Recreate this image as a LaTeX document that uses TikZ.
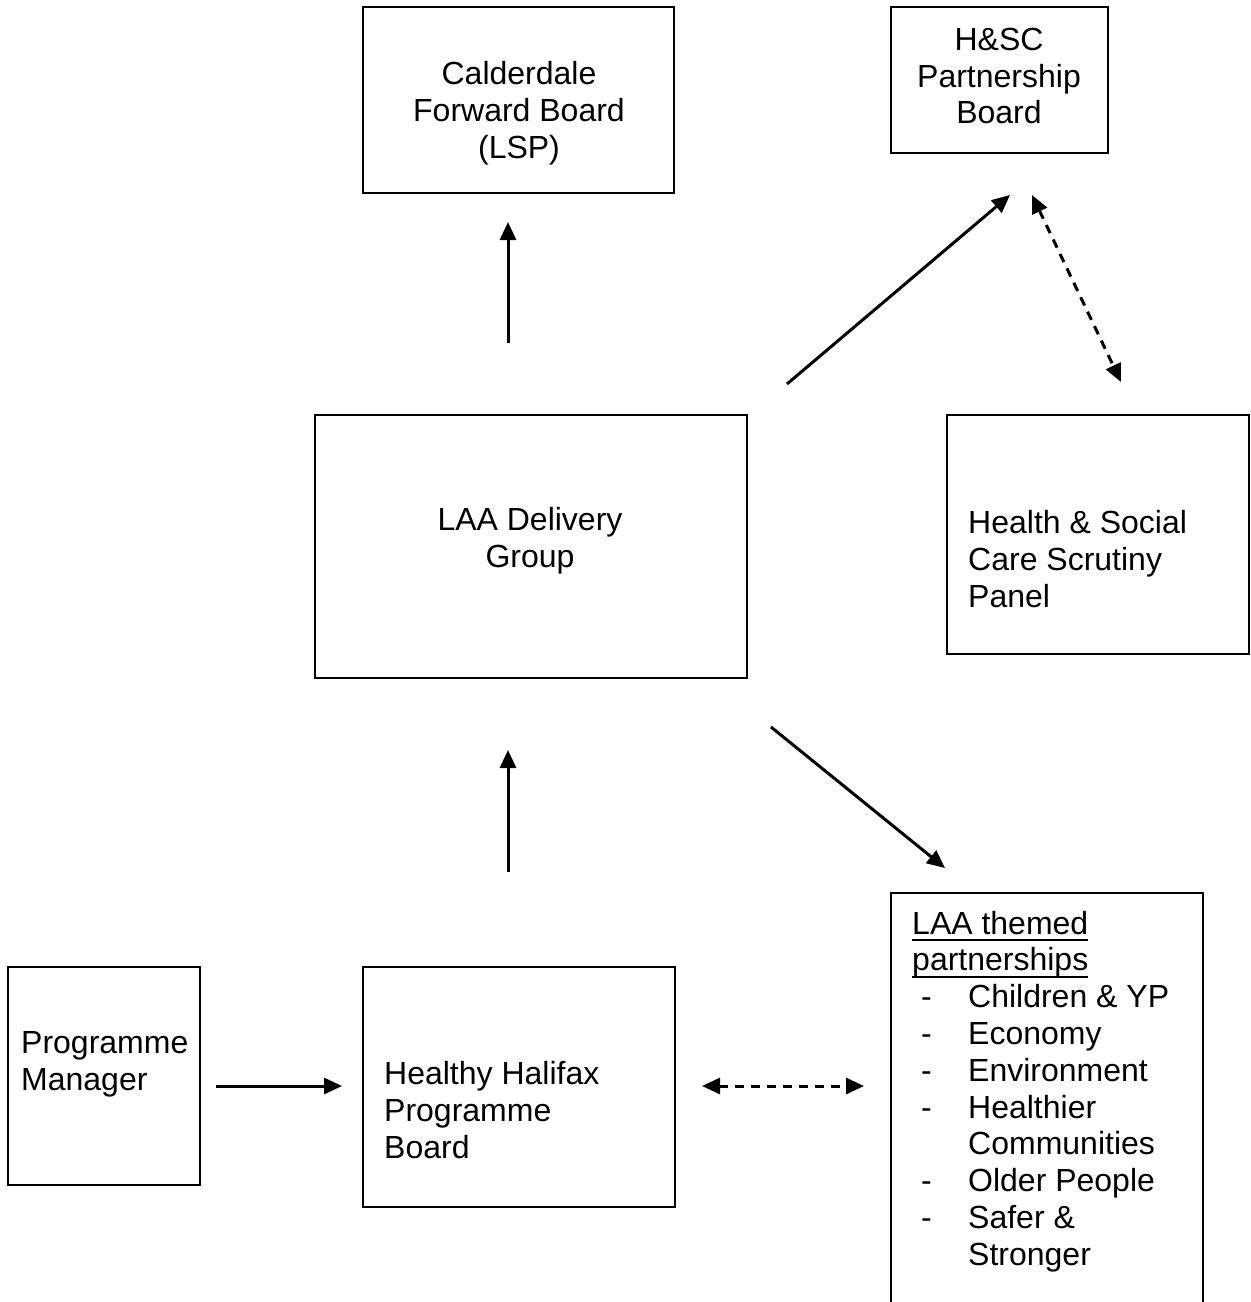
\documentclass[tikz,border=0pt]{standalone}
\usepackage{fontspec}
\setmainfont{Liberation Sans}
\usepackage{tikz}
\usetikzlibrary{arrows.meta}

\tikzset{
    box/.style={draw, line width=2.5pt, inner sep=0pt},
    lbl/.style={inner sep=0pt, font=\fontsize{32}{36.8}\selectfont},
    link/.style={line width=3pt, -{Triangle[length=18pt,width=16pt]}},
    twoway/.style={line width=3pt, dash pattern=on 9pt off 7pt,
        {Triangle[length=18pt,width=16pt]}-{Triangle[length=18pt,width=16pt]}}
}

\newcommand{\listentry}[1]{\makebox[56pt][l]{\hspace{9pt}-}#1}
\newcommand{\ulined}[1]{\setbox0\hbox{#1}\rlap{\rule[-7pt]{\wd0}{2pt}}\box0}

\begin{document}
\begin{tikzpicture}[x=1pt, y=-1pt]
        \useasboundingbox (0,0) rectangle (1251,1302);

        \node[box, minimum width=311pt, minimum height=186pt] (cfb) at (518.5,100) {};
        \node[lbl, align=center] (cfbtext) at (519,113) {Calderdale\\Forward Board\\(LSP)};
        \node[box, minimum width=217pt, minimum height=146pt] (hsc) at (999.5,80) {};
        \node[lbl, align=center] (hsctext) at (999,76) {H\&SC\\Partnership\\Board};

        \node[box, minimum width=432pt, minimum height=263pt] (laa) at (531,546.5) {};
        \node[lbl, align=center] (laatext) at (530,540.5) {LAA Delivery\\Group};
        \node[box, minimum width=302pt, minimum height=239pt] (scrut) at (1098,534.5) {};
        \node[lbl, align=left, anchor=west] (scruttext) at (968,559) {Health \& Social\\Care Scrutiny\\Panel};

        \node[box, minimum width=192pt, minimum height=218pt] (pm) at (104,1076) {};
        \node[lbl, align=left, anchor=west] (pmtext) at (21,1064.5) {Programme\\Manager};
        \node[box, minimum width=312pt, minimum height=240pt] (hh) at (519,1087) {};
        \node[lbl, align=left, anchor=west] (hhtext) at (384,1110) {Healthy Halifax\\Programme\\Board};
        \node[box, minimum width=312pt, minimum height=411pt] (themed) at (1047,1098.5) {};
        \node[lbl, align=left, anchor=west] (themedtext) at (912,1091.5) {\ulined{LAA themed}\\\ulined{partnerships}\\
            \listentry{Children \& YP}\\\listentry{Economy}\\\listentry{Environment}\\\listentry{Healthier}\\
            \hspace*{56pt}Communities\\\listentry{Older People}\\\listentry{Safer \&}\\\hspace*{56pt}Stronger};

        \coordinate (up1s) at (508,343);
        \coordinate (up1e) at (508,222);
        \coordinate (up2s) at (508,872);
        \coordinate (up2e) at (508,750);
        \coordinate (nes) at (787,384);
        \coordinate (nee) at (1010,195);
        \coordinate (dashts) at (1032,195);
        \coordinate (dashte) at (1121,382);
        \coordinate (ses) at (771,727);
        \coordinate (see) at (945,868);
        \coordinate (rts) at (216,1086);
        \coordinate (rte) at (342,1086);
        \coordinate (dashbs) at (702,1086);
        \coordinate (dashbe) at (864,1086);

        \draw[link] (up1s) -- (up1e);
        \draw[link] (up2s) -- (up2e);
        \draw[link] (nes) -- (nee);
        \draw[link] (ses) -- (see);
        \draw[link] (rts) -- (rte);
        \draw[twoway] (dashts) -- (dashte);
        \draw[twoway] (dashbs) -- (dashbe);
    \end{tikzpicture}
\end{document}
